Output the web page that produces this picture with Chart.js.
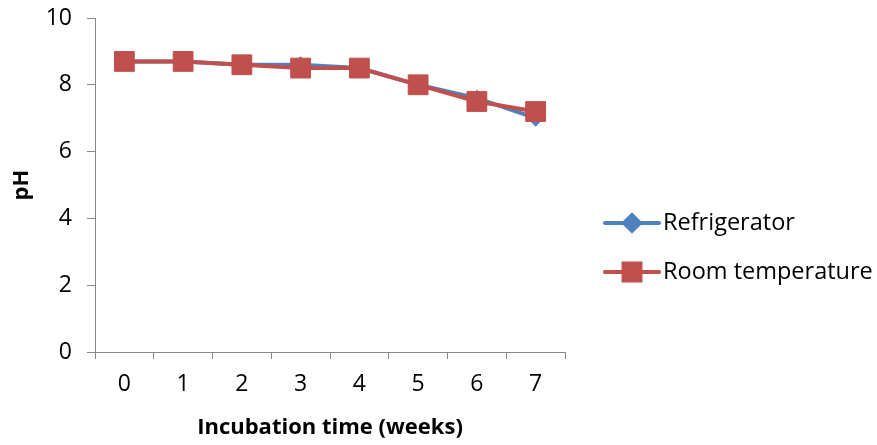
<!DOCTYPE html>
<html><head><meta charset="utf-8">
<script src="https://cdn.jsdelivr.net/npm/chart.js@4.4.0/dist/chart.umd.min.js"></script>
<style>html,body{margin:0;padding:0;background:#fff}</style>
</head><body>
<canvas id="c" width="877" height="445" style="display:block;width:877px;height:445px"></canvas>
<script>
const categories = ['0','1','2','3','4','5','6','7'];
const refrigerator = [8.7, 8.7, 8.6, 8.6, 8.5, 8.0, 7.6, 7.0];
const roomTemperature = [8.7, 8.7, 8.6, 8.5, 8.5, 8.0, 7.5, 7.2];
const seriesNames = ['Refrigerator', 'Room temperature'];
const yMin = 0, yMax = 10, yStep = 2;
const xTitle = 'Incubation time (weeks)';
const yTitle = 'pH';

const FONT = "'Open Sans', 'DejaVu Sans', sans-serif";
const BLUE = '#4F81BD', RED = '#C0504D', AXIS = '#868686';

const legendPlugin = {
  id: 'sideLegend',
  afterDraw(chart) {
    const ctx = chart.ctx;
    const rows = [223, 272];
    chart.data.datasets.forEach((ds, i) => {
      const y = rows[ds.legendRow];
      ctx.save();
      ctx.strokeStyle = ds.borderColor;
      ctx.lineWidth = 4;
      ctx.lineCap = 'round';
      ctx.beginPath(); ctx.moveTo(605, y); ctx.lineTo(659, y); ctx.stroke();
      ctx.fillStyle = ds.pointBackgroundColor;
      ctx.strokeStyle = ds.pointBorderColor;
      Chart.helpers.drawPoint(ctx, {pointStyle: ds.pointStyle, radius: ds.legendRadius, borderWidth: 1, rotation: 0}, 632, y);
      ctx.fillStyle = '#000';
      ctx.font = "23.5px " + FONT;
      ctx.textBaseline = 'middle';
      ctx.textAlign = 'left';
      ctx.fillText(ds.label, 663, y);
      ctx.restore();
    });
  }
};

new Chart(document.getElementById('c'), {
  type: 'line',
  data: {
    labels: categories,
    datasets: [
      {
        label: seriesNames[0], data: refrigerator, legendRow: 0, legendRadius: 8,
        borderColor: BLUE, backgroundColor: BLUE, borderWidth: 4,
        pointStyle: 'rectRot', pointRadius: 8, pointBackgroundColor: BLUE, pointBorderColor: BLUE,
        pointBorderWidth: 1, tension: 0, order: 2
      },
      {
        label: seriesNames[1], data: roomTemperature, legendRow: 1, legendRadius: 12,
        borderColor: RED, backgroundColor: RED, borderWidth: 4,
        pointStyle: 'rect', pointRadius: 14, pointBackgroundColor: RED, pointBorderColor: RED,
        pointBorderWidth: 1, tension: 0, order: 1
      }
    ]
  },
  options: {
    responsive: false,
    animation: false,
    devicePixelRatio: 1,
    layout: { padding: { top: 18, right: 312, left: 0, bottom: 0 } },
    plugins: { legend: { display: false }, tooltip: { enabled: false } },
    scales: {
      x: {
        type: 'category',
        offset: true,
        grid: { display: true, offset: true, drawOnChartArea: false, drawTicks: true, tickLength: 7, color: AXIS, lineWidth: 1 },
        border: { display: true, color: AXIS, width: 1 },
        ticks: { color: '#000', font: { family: FONT, size: 23 }, padding: 12, maxRotation: 0, autoSkip: false },
        title: { display: true, text: xTitle, color: '#000', font: { family: FONT, size: 22, weight: 'bold' }, padding: { top: 0, bottom: 4 } },
        afterFit(s) { s.height = 93; s.paddingLeft = 0; s.paddingRight = 0; }
      },
      y: {
        min: yMin, max: yMax,
        grid: { display: true, drawOnChartArea: false, drawTicks: true, tickLength: 8, color: AXIS, lineWidth: 1 },
        border: { display: true, color: AXIS, width: 1 },
        ticks: { stepSize: yStep, color: '#000', font: { family: FONT, size: 23 }, padding: 15 },
        title: { display: true, text: yTitle, color: '#000', font: { family: FONT, size: 22, weight: 'bold' }, padding: { top: 9, bottom: 0 } },
        afterFit(s) { s.width = 95; s.paddingTop = 0; s.paddingBottom = 0; }
      }
    }
  },
  plugins: [legendPlugin]
});
</script>
</body></html>
